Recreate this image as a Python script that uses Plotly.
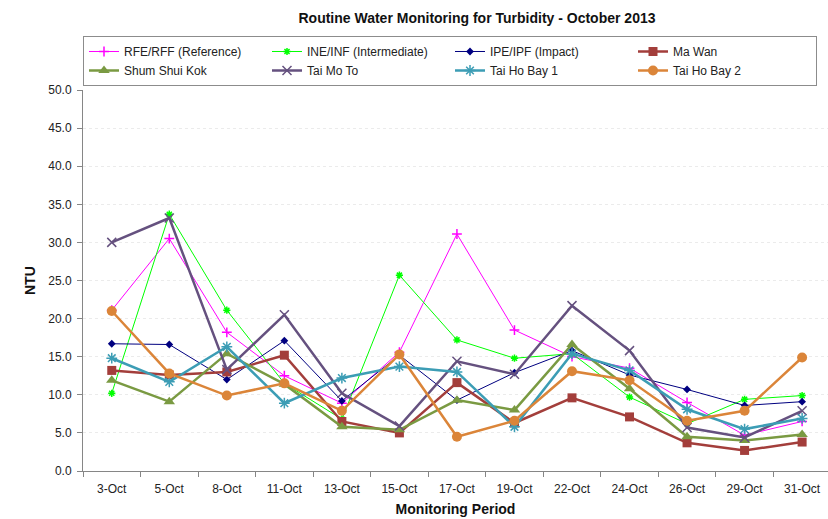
import plotly.graph_objects as go

dates = ["3-Oct", "5-Oct", "8-Oct", "11-Oct", "13-Oct", "15-Oct", "17-Oct",
         "19-Oct", "22-Oct", "24-Oct", "26-Oct", "29-Oct", "31-Oct"]

rfe = [21.1, 30.5, 18.2, 12.5, 8.9, 15.6, 31.1, 18.5, 15.0, 13.5, 9.0, 4.7, 6.5]
ine = [10.2, 33.7, 21.1, 11.5, 6.8, 25.7, 17.2, 14.8, 15.4, 9.7, 6.2, 9.4, 9.9]
ipe = [16.7, 16.6, 12.0, 17.1, 9.2, 15.2, 9.3, 12.9, 15.8, 12.6, 10.7, 8.6, 9.1]
ma_wan = [13.2, 12.6, 13.0, 15.2, 6.5, 5.0, 11.6, 6.3, 9.6, 7.1, 3.7, 2.7, 3.8]
shum_shui_kok = [11.9, 9.1, 15.4, 11.4, 5.8, 5.4, 9.3, 8.0, 16.6, 10.8, 4.5, 4.0, 4.8]
tai_mo_to = [30.0, 33.2, 13.3, 20.5, 10.2, 5.9, 14.4, 12.7, 21.7, 15.8, 5.7, 4.4, 7.9]
tai_ho_bay_1 = [14.8, 11.7, 16.3, 8.9, 12.2, 13.7, 13.0, 5.8, 15.4, 13.2, 8.1, 5.5, 6.9]
tai_ho_bay_2 = [21.0, 12.8, 9.9, 11.5, 7.9, 15.3, 4.5, 6.6, 13.1, 11.9, 6.6, 7.9, 14.9]

series = [
    ("RFE/RFF (Reference)", rfe, "#FF00FF", 1, "cross-thin-open", 7),
    ("INE/INF (Intermediate)", ine, "#00FF00", 1, "asterisk-open", 6),
    ("IPE/IPF (Impact)", ipe, "#000080", 1, "diamond", 6),
    ("Ma Wan", ma_wan, "#A33E3B", 2.5, "square", 9),
    ("Shum Shui Kok", shum_shui_kok, "#7A9A42", 2.5, "triangle-up", 10),
    ("Tai Mo To", tai_mo_to, "#65517F", 2.5, "x-thin-open", 9),
    ("Tai Ho Bay 1", tai_ho_bay_1, "#3C9DB5", 2.5, "asterisk-open", 9),
    ("Tai Ho Bay 2", tai_ho_bay_2, "#DB8539", 2.5, "circle", 10),
]

fig = go.Figure()
for name, vals, color, lw, sym, size in series:
    fig.add_trace(go.Scatter(
        x=dates, y=vals, name=name, mode="lines+markers",
        line=dict(color=color, width=lw),
        marker=dict(symbol=sym, size=size, color=color,
                    line=dict(color=color, width=1.5 if "open" in sym else 0)),
    ))

font_family = "Liberation Sans, Arial, sans-serif"

fig.update_layout(
    width=828, height=519,
    margin=dict(l=83, r=0, t=90, b=48, autoexpand=False),
    paper_bgcolor="white", plot_bgcolor="white",
    font=dict(family=font_family, size=12, color="#222222"),
    showlegend=True,
    legend=dict(
        orientation="h", x=0.0, xanchor="left", y=1.0105, yanchor="bottom",
        entrywidth=138, entrywidthmode="pixels",
        bordercolor="#8C8C8C", borderwidth=1, bgcolor="white",
        font=dict(size=12, family=font_family, color="#222222"),
        tracegroupgap=0, itemwidth=30,
    ),
    title=dict(
        text="<b>Routine Water Monitoring for Turbidity - October 2013</b>",
        x=477 / 828, xref="container", xanchor="center",
        y=1 - 18 / 519, yref="container", yanchor="middle",
        font=dict(size=14, family=font_family, color="#111111"),
    ),
    annotations=[
        dict(text="<b>NTU</b>", textangle=-90, x=20, y=280,
             xref="paper", yref="paper", showarrow=False,
             font=dict(size=14, family=font_family, color="#111111")),
    ],
)
plot_w, plot_h = 828 - 83, 519 - 90 - 48
fig.layout.annotations[0].x = (20 - 83) / plot_w
fig.layout.annotations[0].y = (471 - 280) / plot_h

fig.update_xaxes(
    type="category", range=[-0.5, 12.45], automargin=False,
    showline=True, linecolor="#868686", linewidth=1,
    ticks="outside", ticklen=5, tickcolor="#868686",
    tickson="boundaries", showgrid=False, ticklabelstandoff=7,
    tickfont=dict(size=12, family=font_family, color="#222222"),
    title=dict(text="<b>Monitoring Period</b>", standoff=8,
               font=dict(size=14, family=font_family, color="#111111")),
)
fig.update_yaxes(
    range=[0, 50], dtick=5, tickformat=".1f", automargin=False,
    showline=True, linecolor="#868686", linewidth=1,
    ticks="outside", ticklen=5, tickcolor="#868686", ticklabelstandoff=3,
    showgrid=True, gridcolor="#EBEBEB", griddash="dot", gridwidth=1,
    zeroline=False,
    tickfont=dict(size=12, family=font_family, color="#222222"),
)

fig.write_html("out.html", config={"displayModeBar": False},
               post_script="document.body.style.margin='0';document.body.style.overflow='hidden';")
